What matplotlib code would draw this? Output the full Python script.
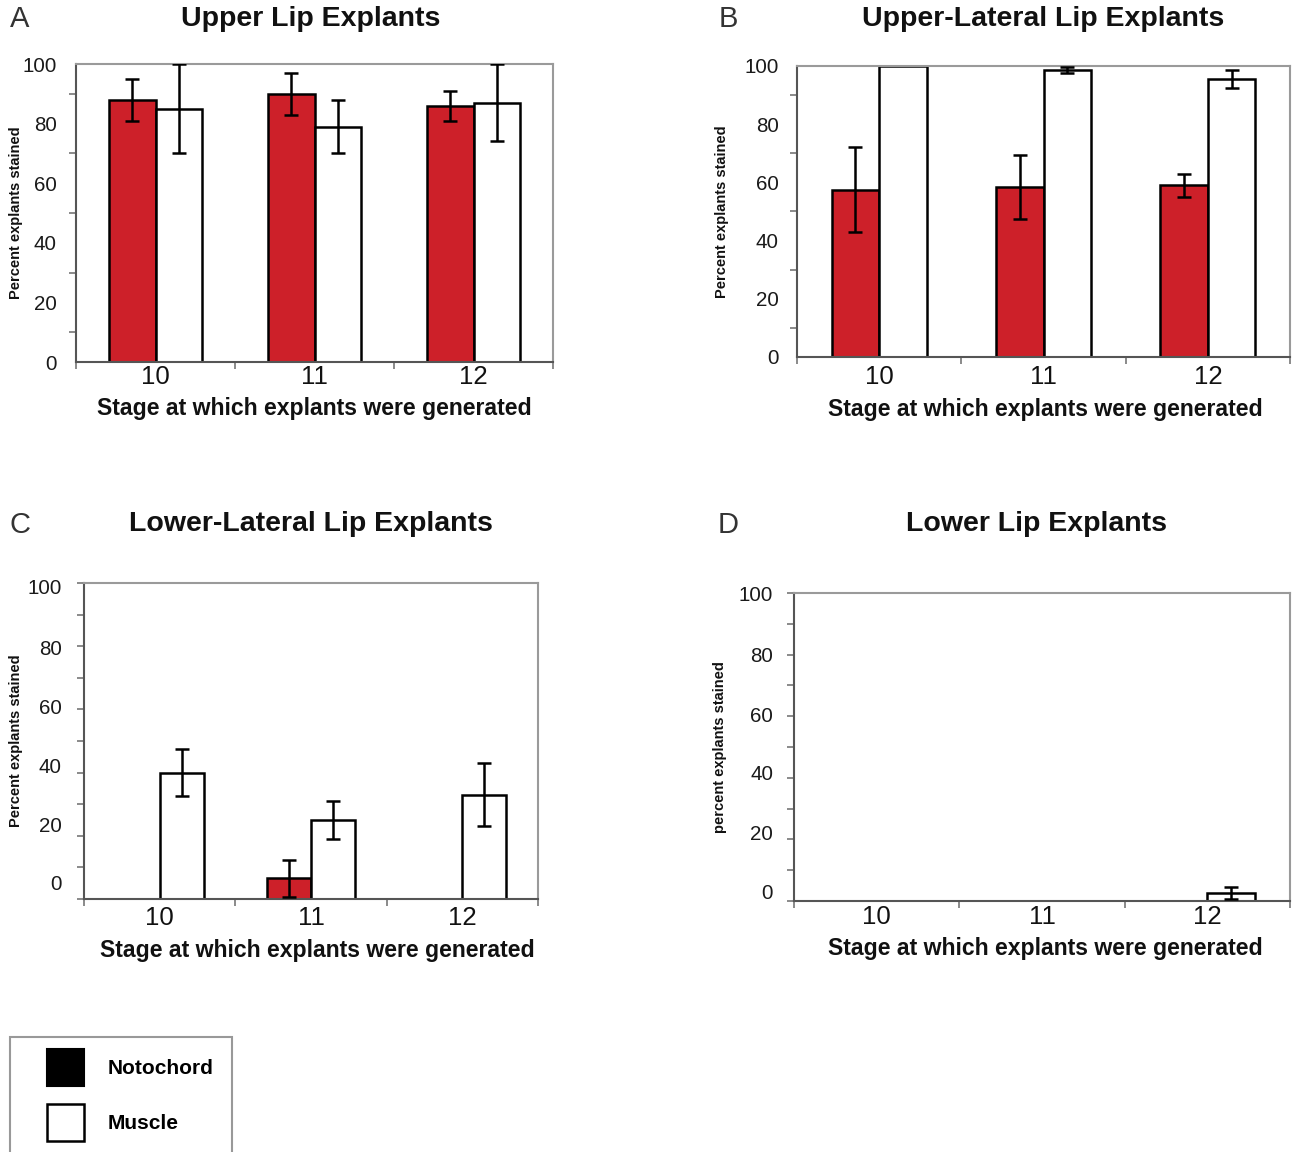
import matplotlib
matplotlib.use('Agg')
import matplotlib.pyplot as plt
from matplotlib.patches import Patch, Rectangle
import numpy as np

plt.rcParams['font.family'] = ['Liberation Sans', 'DejaVu Sans']

# ---------------- data ----------------
stages = ['10', '11', '12']
series_names = ['Notochord', 'Muscle']

a_noto = [88, 90, 86]
a_noto_err = [7, 7, 5]
a_musc = [85, 79, 87]
a_musc_err = [15, 9, 13]

b_noto = [57.5, 58.5, 59]
b_noto_err = [14.5, 11, 4]
b_musc = [100, 98.5, 95.5]
b_musc_err = [0, 1, 3]

c_noto = [0, 6.5, 0]
c_noto_err = [0, 6, 0]
c_musc = [40, 25, 33]
c_musc_err = [7.5, 6, 10]

d_noto = [0, 0, 0]
d_noto_err = [0, 0, 0]
d_musc = [0, 0, 2.5]
d_musc_err = [0, 0, 2]

titles = ['Upper Lip Explants', 'Upper-Lateral Lip Explants',
          'Lower-Lateral Lip Explants', 'Lower Lip Explants']
letters = ['A', 'B', 'C', 'D']
ylabels = ['Percent explants stained', 'Percent explants stained',
           'Percent explants stained', 'percent explants stained']
xlabel = 'Stage at which explants were generated'
ytick_vals = [0, 20, 40, 60, 80, 100]

# ---------------- style / layout ----------------
RED = '#CD2029'
W, H = 1294, 1152
fig = plt.figure(figsize=(W / 100, H / 100), dpi=100)

def fx(px):
    return px / W

def fy(py):
    return 1 - py / H

# axes boxes in pixels: left, top, right, bottom
boxes = [(76, 64, 553, 362), (797, 66, 1290, 357),
         (84, 583, 538, 899), (794, 593, 1290, 901)]
# where the y tick labels sit (the original C and D have shifted labels)
label_pos = [ytick_vals, ytick_vals,
             [5.1, 23.6, 42.4, 61, 79.7, 98.8],
             [3.2, 22.4, 41.6, 60.7, 79.9, 99.7]]
title_xy = [(311, 19), (1043, 19), (311, 524), (1037, 524)]
letter_xy = [(20, 19), (728, 19), (20, 525), (728, 525)]
xlabel_xy = [(314, 409), (1045, 410), (317, 950), (1045, 949)]
ylabel_x = [16, 722, 16, 720]
xtick_pad = [2, 6, 5, 3]
ytick_pad = [14, 13, 16, 15]

panels = [(a_noto, a_noto_err, a_musc, a_musc_err),
          (b_noto, b_noto_err, b_musc, b_musc_err),
          (c_noto, c_noto_err, c_musc, c_musc_err),
          (d_noto, d_noto_err, d_musc, d_musc_err)]

bw = 0.29
for i, (noto, noto_err, musc, musc_err) in enumerate(panels):
    l, t, r, b = boxes[i]
    ax = fig.add_axes([fx(l), fy(b), (r - l) / W, (b - t) / H])
    x = np.arange(len(stages))
    ax.bar(x - bw / 2, noto, bw, color=RED, edgecolor='black', linewidth=1.8, zorder=2)
    ax.bar(x + bw / 2, musc, bw, color='white', edgecolor='black', linewidth=1.8, zorder=2)
    for xs, vals, errs in [(x - bw / 2, noto, noto_err), (x + bw / 2, musc, musc_err)]:
        vals = np.array(vals, float)
        errs = np.array(errs, float)
        m = errs > 0
        if m.any():
            ax.errorbar(xs[m], vals[m], yerr=errs[m], fmt='none', ecolor='black',
                        elinewidth=1.8, capsize=5, capthick=1.8, zorder=3)
    ax.set_xlim(-0.5, 2.5)
    ax.set_ylim(0, 100)
    for side in ['top', 'right']:
        ax.spines[side].set_color('#9a9a9a')
        ax.spines[side].set_linewidth(1.5)
    for side in ['left', 'bottom']:
        ax.spines[side].set_color('#555555')
        ax.spines[side].set_linewidth(1.5)
    # x ticks
    ax.set_xticks(x)
    ax.set_xticklabels(stages, fontsize=18.5, color='#111111')
    ax.set_xticks([-0.5, 0.5, 1.5, 2.5], minor=True)
    ax.tick_params(axis='x', which='major', length=0, pad=xtick_pad[i])
    ax.tick_params(axis='x', which='minor', length=5, width=1.2, color='#777777', direction='out')
    # y ticks
    ax.set_yticks(label_pos[i])
    ax.set_yticklabels([str(v) for v in ytick_vals], fontsize=14.8, color='#1a1a1a')
    ax.set_yticks(np.arange(0, 101, 10), minor=True)
    ax.tick_params(axis='y', which='major', length=0, pad=ytick_pad[i])
    ax.tick_params(axis='y', which='minor', length=5, width=1.2, color='#777777', direction='out')
    # labels
    ax.set_xlabel(xlabel, fontsize=16.6, fontweight='bold', color='#111111')
    ax.xaxis.set_label_coords((xlabel_xy[i][0] - l) / (r - l), -(xlabel_xy[i][1] - b) / (b - t))
    ax.xaxis.label.set_va('center')
    ax.set_ylabel(ylabels[i], fontsize=10.5, fontweight='bold', color='#111111')
    ax.yaxis.set_label_coords((ylabel_x[i] - l) / (r - l), 0.5)
    ax.yaxis.label.set_va('center')
    fig.text(fx(title_xy[i][0]), fy(title_xy[i][1]), titles[i], fontsize=20.5,
             fontweight='bold', ha='center', va='center', color='#111111')
    fig.text(fx(letter_xy[i][0]), fy(letter_xy[i][1]), letters[i], fontsize=21,
             ha='center', va='center', color='#333333')

# ---------------- legend ----------------
fig.patches.append(Rectangle((fx(10), fy(1160)), (232 - 10) / W, (1160 - 1037) / H,
                             transform=fig.transFigure, facecolor='white',
                             edgecolor='#999999', linewidth=1.5, zorder=0))
handles = [Patch(facecolor='black', edgecolor='black', linewidth=1.5),
           Patch(facecolor='white', edgecolor='black', linewidth=1.8)]
fs = 15
leg = fig.legend(handles, series_names, loc='upper left',
                 bbox_to_anchor=(fx(41), fy(1043)), frameon=False,
                 prop={'weight': 'bold', 'size': fs},
                 handlelength=1.77, handleheight=2.35, handletextpad=1.15,
                 labelspacing=0.87, borderpad=0.3, borderaxespad=0)

fig.savefig('out.png', dpi=100)
